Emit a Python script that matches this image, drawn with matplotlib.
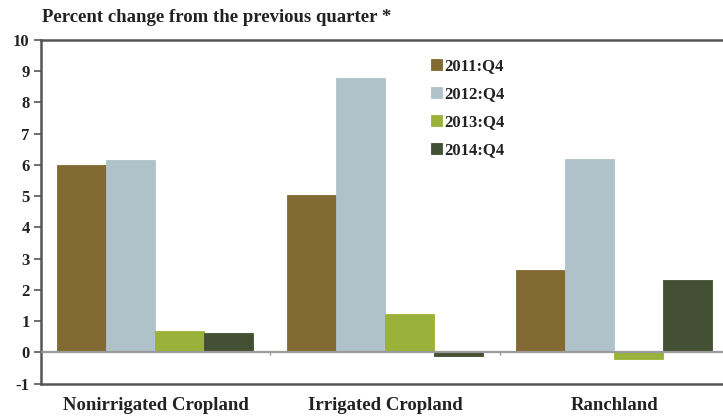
import numpy as np
import matplotlib
matplotlib.use("Agg")
import matplotlib.pyplot as plt

categories = ["Nonirrigated Cropland", "Irrigated Cropland", "Ranchland"]
series_labels = ["2011:Q4", "2012:Q4", "2013:Q4", "2014:Q4"]
q4_2011 = [6.0, 5.03, 2.63]
q4_2012 = [6.15, 8.79, 6.18]
q4_2013 = [0.69, 1.21, -0.2]
q4_2014 = [0.62, -0.13, 2.32]
y_ticks = list(range(-1, 11))

colors = ["#826A32", "#AFC2C9", "#9BB23A", "#435033"]
series = [q4_2011, q4_2012, q4_2013, q4_2014]

plt.rcParams["font.family"] = ["Liberation Serif", "DejaVu Serif"]
plt.rcParams["font.weight"] = "bold"

W, H = 723, 419
fig = plt.figure(figsize=(W / 100, H / 100), dpi=100)
left, right = 40.75, 729.0
top, bottom = 40.0, 383.5
ax = fig.add_axes([left / W, (H - bottom) / H, (right - left) / W, (bottom - top) / H])

x = np.arange(len(categories))
bw = 0.2135
for i, (vals, c, lab) in enumerate(zip(series, colors, series_labels)):
    ax.bar(x + (i - 1.5) * bw, vals, width=bw, color=c, label=lab,
           edgecolor=c, linewidth=0.6, zorder=2)

ax.axhline(0, color="#9a9a9a", lw=1.6, zorder=3)
ax.vlines([0.5, 1.5], -0.1, 0, color="#9a9a9a", lw=1.0, zorder=3)

ax.set_xlim(-0.5, 2.5)
ax.set_ylim(-1, 10)
ax.set_yticks(y_ticks)
ax.set_yticklabels([str(t) for t in y_ticks], fontsize=12, fontweight="bold", color="#222222")
ax.set_xticks(x)
ax.set_xticklabels(categories, fontsize=13.5, fontweight="bold", color="#222222")
ax.tick_params(axis="x", length=0, pad=10)
ax.tick_params(axis="y", length=5, width=1.2, color="#555555", pad=3)

for s in ["left", "top", "bottom"]:
    ax.spines[s].set_color("#555555")
    ax.spines[s].set_linewidth(1.8)
ax.spines["right"].set_visible(False)

fig.text(42 / W, 1 - 17 / H, "Percent change from the previous quarter *",
         fontsize=13.5, fontweight="bold", color="#222222", va="center")

leg = ax.legend(loc="upper left", bbox_to_anchor=((416 - left) / (right - left), 0.99),
                frameon=False, handlelength=0.65, handleheight=0.65,
                handletextpad=0.15, labelspacing=0.72, prop={"weight": "bold", "size": 12})
for t in leg.get_texts():
    t.set_color("#222222")

fig.savefig("out.png", dpi=100)
